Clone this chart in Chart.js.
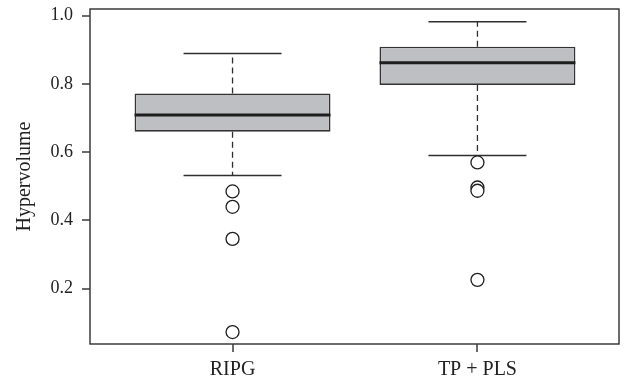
<!DOCTYPE html>
<html>
<head>
<meta charset="utf-8">
<script src="https://cdn.jsdelivr.net/npm/chart.js@4/dist/chart.umd.min.js"></script>
<style>
  html, body { margin: 0; padding: 0; background: #ffffff; }
  #wrap { width: 630px; height: 383px; }
</style>
</head>
<body>
<div id="wrap"><canvas id="c" width="630" height="383"></canvas></div>
<script>
// ---- data ----
const categories   = ['RIPG', 'TP + PLS'];
const whiskerLow   = [0.532, 0.590];
const q1           = [0.660, 0.797];
const median       = [0.709, 0.862];
const q3           = [0.772, 0.909];
const whiskerHigh  = [0.889, 0.982];
const outliers     = [
  [0.485, 0.440, 0.346, 0.073],
  [0.570, 0.4965, 0.487, 0.226]
];
const yTicks = [0.2, 0.4, 0.6, 0.8, 1.0];
const yTitle = 'Hypervolume';

const FONT = "'Liberation Serif', 'DejaVu Serif', serif";
const INK = '#2e2e2e';
const BOX_FRACTION = 0.8;   // box width in category units
const CAP_FRACTION = 0.5;   // cap width relative to box
const TICK_LEN = 8;

const boxData = categories.map((c, i) => ({ x: i + 1, y: [q1[i], q3[i]] }));
const outlierData = [];
outliers.forEach((arr, i) => arr.forEach(v => outlierData.push({ x: i + 1, y: v })));

const boxPlugin = {
  id: 'boxParts',
  beforeDatasetsDraw(chart) {
    const { ctx, scales: { x, y } } = chart;
    ctx.save();
    ctx.strokeStyle = INK;
    categories.forEach((c, i) => {
      const cx = x.getPixelForValue(i + 1);
      const half = (x.getPixelForValue(i + 1 + BOX_FRACTION / 2) - cx) * CAP_FRACTION;
      // dashed whiskers
      ctx.lineWidth = 1.3;
      ctx.setLineDash([6, 4]);
      ctx.beginPath();
      ctx.moveTo(cx, y.getPixelForValue(q3[i]));
      ctx.lineTo(cx, y.getPixelForValue(whiskerHigh[i]));
      ctx.moveTo(cx, y.getPixelForValue(q1[i]));
      ctx.lineTo(cx, y.getPixelForValue(whiskerLow[i]));
      ctx.stroke();
      // caps
      ctx.setLineDash([]);
      ctx.lineWidth = 1.5;
      ctx.beginPath();
      [whiskerHigh[i], whiskerLow[i]].forEach(v => {
        const py = y.getPixelForValue(v);
        ctx.moveTo(cx - half, py);
        ctx.lineTo(cx + half, py);
      });
      ctx.stroke();
    });
    ctx.restore();
  },
  afterDatasetsDraw(chart) {
    const { ctx, scales: { x, y } } = chart;
    ctx.save();
    // medians
    ctx.strokeStyle = '#1e1e1e';
    ctx.lineWidth = 3;
    categories.forEach((c, i) => {
      const l = x.getPixelForValue(i + 1 - BOX_FRACTION / 2);
      const r = x.getPixelForValue(i + 1 + BOX_FRACTION / 2);
      const py = y.getPixelForValue(median[i]);
      ctx.beginPath();
      ctx.moveTo(l, py);
      ctx.lineTo(r, py);
      ctx.stroke();
    });
    ctx.restore();
  },
  afterDraw(chart) {
    const { ctx, chartArea, scales: { x, y } } = chart;
    ctx.save();
    ctx.setLineDash([]);
    // frame
    ctx.strokeStyle = INK;
    ctx.lineWidth = 1.4;
    ctx.strokeRect(chartArea.left, chartArea.top, chartArea.right - chartArea.left, chartArea.bottom - chartArea.top);
    // axis tick marks outside the frame, at the scales' tick values
    ctx.strokeStyle = '#3a3a3a';
    ctx.lineWidth = 1.5;
    ctx.beginPath();
    categories.forEach((c, i) => {
      const px = Math.round(x.getPixelForValue(i + 1));
      ctx.moveTo(px, chartArea.bottom);
      ctx.lineTo(px, chartArea.bottom + TICK_LEN);
    });
    yTicks.forEach(v => {
      const py = Math.round(y.getPixelForValue(v));
      ctx.moveTo(chartArea.left - TICK_LEN, py);
      ctx.lineTo(chartArea.left, py);
    });
    ctx.stroke();
    ctx.restore();
  }
};

new Chart(document.getElementById('c'), {
  type: 'bar',
  data: {
    datasets: [
      {
        type: 'scatter',
        data: outlierData,
        pointStyle: 'circle',
        pointRadius: 6.5,
        pointHoverRadius: 6.5,
        pointBackgroundColor: '#ffffff',
        pointBorderColor: '#1e1e1e',
        pointBorderWidth: 1.3,
        order: 0
      },
      {
        type: 'bar',
        data: boxData,
        backgroundColor: '#bebfc3',
        borderColor: '#333333',
        borderWidth: 1.6,
        borderSkipped: false,
        barPercentage: BOX_FRACTION,
        categoryPercentage: 1.0,
        order: 1
      }
    ]
  },
  options: {
    responsive: false,
    animation: false,
    devicePixelRatio: 1,
    layout: { padding: { top: 9, right: 11, left: 0, bottom: 0 } },
    plugins: { legend: { display: false }, tooltip: { enabled: false } },
    scales: {
      x: {
        type: 'linear',
        min: 0.418,
        max: 2.578,
        offset: false,
        afterBuildTicks(scale) { scale.ticks = categories.map((c, i) => ({ value: i + 1 })); },
        afterFit(scale) { scale.height = 39; scale.paddingLeft = 0; scale.paddingRight = 0; },
        ticks: {
          callback: (v) => categories[v - 1] ?? '',
          font: { family: FONT, size: 20 },
          color: '#222',
          padding: 14,
          maxRotation: 0,
          autoSkip: false
        },
        grid: { display: false, drawTicks: false },
        border: { display: false }
      },
      y: {
        type: 'linear',
        min: 0.038,
        max: 1.0196,
        afterBuildTicks(scale) { scale.ticks = yTicks.map(v => ({ value: v })); },
        afterFit(scale) { scale.width = 90; scale.paddingTop = 0; scale.paddingBottom = 0; },
        ticks: {
          callback: (v) => v.toFixed(1),
          font: { family: FONT, size: 18 },
          color: '#222',
          padding: 17
        },
        title: {
          display: true,
          text: yTitle,
          font: { family: FONT, size: 20 },
          color: '#222',
          padding: { top: 13, bottom: 0 }
        },
        grid: { display: false, drawTicks: false },
        border: { display: false }
      }
    }
  },
  plugins: [boxPlugin]
});
</script>
</body>
</html>
